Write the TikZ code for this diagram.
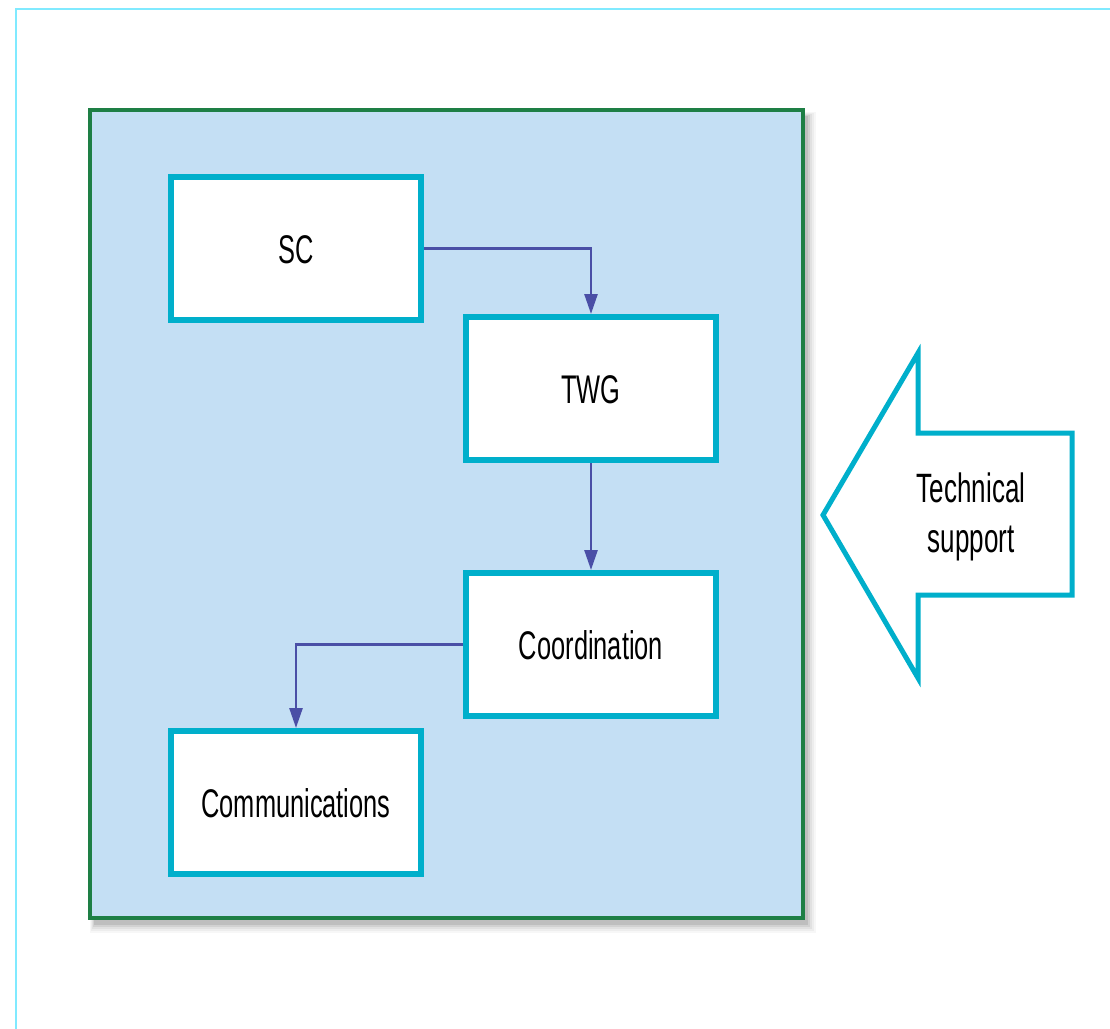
\documentclass[tikz,border=0pt]{standalone}
\usepackage{fontspec}
\newfontfamily\labfont[FakeStretch=0.635]{Liberation Sans}
\usetikzlibrary{arrows.meta}
\definecolor{framecyan}{HTML}{80EAFF}
\definecolor{panelfill}{HTML}{C4DFF4}
\definecolor{panelgreen}{HTML}{1E7F45}
\definecolor{boxcyan}{HTML}{00AFCB}
\definecolor{linkblue}{HTML}{4A4FA6}
\tikzset{
  orgbox/.style={draw=boxcyan, line width=6pt, fill=white, minimum width=250pt,
    minimum height=143pt, inner sep=0pt, text height=29pt, text depth=0pt,
    font=\labfont\fontsize{40}{50}\selectfont},
  link/.style={draw=linkblue, line width=2.6pt, -{Triangle[width=13pt,length=20pt]}},
}
\begin{document}
\begin{tikzpicture}[x=1pt,y=-1pt]
\useasboundingbox (0,0) rectangle (1110,1028);
% outer frame
\draw[framecyan, line width=2.5pt] (16,1040) -- (16,9) -- (1120,9);
% shadow of panel
\foreach \e/\o in {9/0.03,7/0.04,5/0.05,3/0.07,1/0.09}{
  \fill[black, opacity=\o] (90+4-\e/2,110+6-\e/2) rectangle (803+4+\e,918+6+\e);
}
% panel
\draw[panelgreen, fill=panelfill, line width=3.5pt] (90,110) rectangle (803,918);
% boxes
\node[orgbox] (sc)   at (296,248.5) {SC};
\node[orgbox] (twg)  at (591,388.5) {TWG};
\node[orgbox] (coord) at (591,644.5) {Coordination};
\node[orgbox] (comm) at (296,802.5) {Communications};
% connectors
\draw[link] (sc.east) -| (twg.north);
\draw[link] (twg.south) -- (coord.north);
\draw[link] (coord.west) -| (comm.north);
% technical support arrow
\draw[boxcyan, fill=white, line width=5pt, line join=miter]
  (823,515) -- (918,353) -- (918,433) -- (1072,433) -- (1072,595)
  -- (918,595) -- (918,678) -- cycle;
\node[align=center, inner sep=0pt, font=\labfont\fontsize{41}{50}\selectfont]
  (tech) at (971,517) {Technical\\support};
\end{tikzpicture}
\end{document}
